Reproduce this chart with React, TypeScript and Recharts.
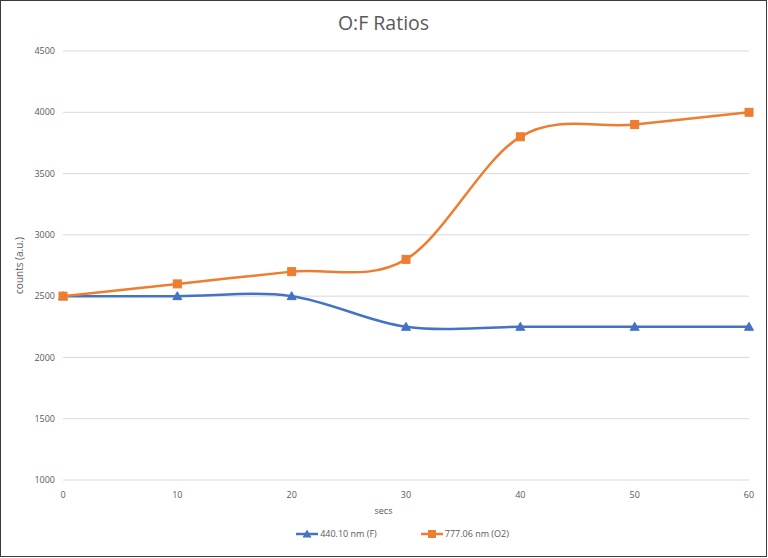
import { LineChart, Line, XAxis, YAxis, CartesianGrid, Label } from "recharts";

const secs = [0, 10, 20, 30, 40, 50, 60];
const fluorine = [2500, 2500, 2500, 2250, 2250, 2250, 2250];
const oxygen = [2500, 2600, 2700, 2800, 3800, 3900, 4000];
const yTicks = [1000, 1500, 2000, 2500, 3000, 3500, 4000, 4500];
const xTicks = [0, 10, 20, 30, 40, 50, 60];
const seriesNames = ["440.10 nm (F)", "777.06 nm (O2)"];

const BLUE = "#4472C4";
const ORANGE = "#ED7D31";
const TEXT = "#595959";
const FONT = "'Open Sans', 'Liberation Sans', sans-serif";

const data = secs.map((s, i) => ({ secs: s, f: fluorine[i], o2: oxygen[i] }));

// Excel-like smoothed line (Catmull-Rom through the points)
const excelCurve = (context: any) => {
    let pts: number[][] = [];
    return {
        areaStart() {},
        areaEnd() {},
        lineStart() {
            pts = [];
        },
        point(x: number, y: number) {
            pts.push([+x, +y]);
        },
        lineEnd() {
            if (!pts.length) return;
            context.moveTo(pts[0][0], pts[0][1]);
            for (let i = 0; i < pts.length - 1; i++) {
                const p0 = pts[i - 1] || pts[i];
                const p1 = pts[i];
                const p2 = pts[i + 1];
                const p3 = pts[i + 2] || p2;
                context.bezierCurveTo(
                    p1[0] + (p2[0] - p0[0]) / 6,
                    p1[1] + (p2[1] - p0[1]) / 6,
                    p2[0] - (p3[0] - p1[0]) / 6,
                    p2[1] - (p3[1] - p1[1]) / 6,
                    p2[0],
                    p2[1]
                );
            }
        },
    };
};

const TriangleDot = (props: any) => {
    const { cx, cy } = props;
    if (cx == null || cy == null) return null;
    return <path d={`M${cx},${cy - 4.5} L${cx + 4.5},${cy + 3.5} L${cx - 4.5},${cy + 3.5} Z`} fill={BLUE} stroke={BLUE} />;
};

const SquareDot = (props: any) => {
    const { cx, cy } = props;
    if (cx == null || cy == null) return null;
    return <rect x={cx - 4} y={cy - 4} width={8} height={8} fill={ORANGE} stroke={ORANGE} />;
};

const YLabel = (props: any) => {
    const { viewBox } = props;
    const x = viewBox.x + 22;
    const y = viewBox.y + viewBox.height / 2;
    return (
        <text x={x} y={y} transform={`rotate(-90, ${x}, ${y})`} textAnchor="middle" fill={TEXT} fontSize={10} fontFamily={FONT}>
            counts (a.u.)
        </text>
    );
};

export default function App() {
    return (
        <div
            style={{
                position: "absolute",
                left: 0,
                top: 0,
                width: 765,
                height: 555,
                border: "1px solid #3a3a3a",
                background: "#fff",
                fontFamily: FONT,
            }}
        >
            <div style={{ position: "absolute", top: 8, left: 0, width: 765, textAlign: "center", fontSize: 19.5, color: TEXT }}>
                O:F Ratios
            </div>
            <div style={{ position: "absolute", left: 0, top: 0 }}>
                <LineChart width={765} height={555} data={data} margin={{ top: 50, right: 17, bottom: 54, left: 0 }}>
                    <CartesianGrid vertical={false} stroke="#d9d9d9" />
                    <XAxis
                        dataKey="secs"
                        type="number"
                        domain={[0, 60]}
                        ticks={xTicks}
                        axisLine={false}
                        tickLine={false}
                        tickMargin={6}
                        height={22}
                        tick={{ fontSize: 9, fill: TEXT, fontFamily: FONT }}
                    />
                    <YAxis
                        domain={[1000, 4500]}
                        ticks={yTicks}
                        axisLine={false}
                        tickLine={false}
                        width={62}
                        tick={{ fontSize: 9, fill: TEXT, fontFamily: FONT }}
                    >
                        <Label content={<YLabel />} />
                    </YAxis>
                    <Line
                        dataKey="f"
                        name={seriesNames[0]}
                        type={excelCurve as any}
                        stroke={BLUE}
                        strokeWidth={2.5}
                        dot={<TriangleDot />}
                        activeDot={false}
                        isAnimationActive={false}
                    />
                    <Line
                        dataKey="o2"
                        name={seriesNames[1]}
                        type={excelCurve as any}
                        stroke={ORANGE}
                        strokeWidth={2.5}
                        dot={<SquareDot />}
                        activeDot={false}
                        isAnimationActive={false}
                    />
                </LineChart>
            </div>
            <div style={{ position: "absolute", top: 503, left: 0, width: 765, textAlign: "center", fontSize: 9, color: TEXT }}>
                secs
            </div>
            <div
                style={{
                    position: "absolute",
                    top: 526,
                    left: 0,
                    width: 765,
                    display: "flex",
                    justifyContent: "center",
                    gap: 44,
                    fontSize: 9,
                    color: TEXT,
                    paddingLeft: 38,
                    boxSizing: "border-box",
                }}
            >
                <div style={{ display: "flex", alignItems: "center", gap: 2 }}>
                    <svg width={22} height={12}>
                        <line x1={0} y1={6} x2={22} y2={6} stroke={BLUE} strokeWidth={2.5} />
                        <path d="M11,1.5 L15.5,9.5 L6.5,9.5 Z" fill={BLUE} />
                    </svg>
                    <span>{seriesNames[0]}</span>
                </div>
                <div style={{ display: "flex", alignItems: "center", gap: 2 }}>
                    <svg width={22} height={12}>
                        <line x1={0} y1={6} x2={22} y2={6} stroke={ORANGE} strokeWidth={2.5} />
                        <rect x={7} y={2} width={8} height={8} fill={ORANGE} />
                    </svg>
                    <span>{seriesNames[1]}</span>
                </div>
            </div>
        </div>
    );
}
